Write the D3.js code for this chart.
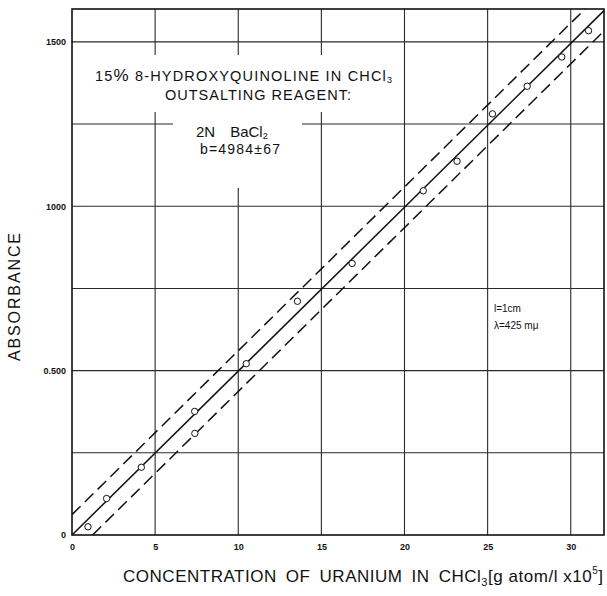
<!DOCTYPE html>
<html>
<head>
<meta charset="utf-8">
<script src="https://cdn.jsdelivr.net/npm/d3@7"></script>
<style>
  body { margin: 0; background: #fff; }
  svg { display: block; font-family: "Liberation Sans", Arial, sans-serif; }
</style>
</head>
<body>
<svg id="chart" width="607" height="596"></svg>
<script>
// values
const concentration = [0.96, 2.08, 4.17, 7.38, 7.39, 10.48, 13.56, 16.85, 21.13, 23.16, 25.29, 27.38, 29.46, 31.07];
const absorbance    = [25, 111, 206, 376, 309, 521, 711, 826, 1047, 1137, 1281, 1365, 1454, 1534];

// fitted line (b = 4984) and the two dashed limits, as end points
const fitLine   = [[0, 0], [32, 1595]];
const upperLine = [[0, 62], [30.86, 1600]];
const lowerLine = [[1.24, 0], [32, 1533]];

const xTicks = [0, 5, 10, 15, 20, 25, 30];
const yTicks = [0, 500, 1000, 1500];
const yTickLabels = ['0', '0.500', '1000', '1500'];
const xGrid = [5, 10, 15, 20, 25, 30];
const yGrid = [250, 500, 750, 1000, 1250, 1500];

const margin = {top: 9, left: 72};
const width = 532, height = 526;

const svg = d3.select('#chart');

const x = d3.scaleLinear().domain([0, 32]).range([margin.left, margin.left + width]);
const y = d3.scaleLinear().domain([0, 1600]).range([margin.top + height, margin.top]);

// grid
svg.append('g')
    .selectAll('line')
    .data(xGrid)
    .enter()
    .append('line')
    .attr('x1', d => x(d)).attr('x2', d => x(d))
    .attr('y1', y(0)).attr('y2', y(1600))
    .attr('stroke', '#2a2a2a')
    .attr('stroke-width', 1.1);

svg.append('g')
    .selectAll('line')
    .data(yGrid)
    .enter()
    .append('line')
    .attr('x1', x(0)).attr('x2', x(32))
    .attr('y1', d => y(d)).attr('y2', d => y(d))
    .attr('stroke', '#2a2a2a')
    .attr('stroke-width', 1.1);

// white patches behind the lettering (the grid is broken there)
svg.append('rect').attr('x', 93).attr('y', 55).attr('width', 304).attr('height', 57).attr('fill', '#fff');
svg.append('rect').attr('x', 173).attr('y', 112).attr('width', 129).attr('height', 76).attr('fill', '#fff');

// frame
svg.append('rect')
    .attr('x', x(0)).attr('y', y(1600))
    .attr('width', x(32) - x(0)).attr('height', y(0) - y(1600))
    .attr('fill', 'none')
    .attr('stroke', '#111')
    .attr('stroke-width', 1.6);

// axes (labels only)
const xAxis = svg.append('g')
    .attr('transform', 'translate(0,' + y(0) + ')')
    .call(d3.axisBottom(x).tickValues(xTicks).tickSize(0).tickPadding(9).tickFormat(d3.format('d')));
const yAxis = svg.append('g')
    .attr('transform', 'translate(' + x(0) + ',0)')
    .call(d3.axisLeft(y).tickValues(yTicks).tickSize(0).tickPadding(6).tickFormat((d, i) => yTickLabels[i]));
[xAxis, yAxis].forEach(a => {
    a.select('.domain').remove();
    a.selectAll('text')
        .attr('font-family', '"Liberation Sans", Arial, sans-serif')
        .attr('font-size', 9)
        .attr('font-weight', 'bold')
        .attr('fill', '#111');
});

// lines
const line = d3.line().x(d => x(d[0])).y(d => y(d[1]));

svg.append('path')
    .datum(fitLine)
    .attr('d', line)
    .attr('fill', 'none')
    .attr('stroke', '#111')
    .attr('stroke-width', 1.5);

[upperLine, lowerLine].forEach(l => {
    svg.append('path')
        .datum(l)
        .attr('d', line)
        .attr('fill', 'none')
        .attr('stroke', '#111')
        .attr('stroke-width', 1.5)
        .attr('stroke-dasharray', '12,6');
});

// data points
svg.append('g')
    .selectAll('circle')
    .data(concentration)
    .enter()
    .append('circle')
    .attr('cx', d => x(d))
    .attr('cy', (d, i) => y(absorbance[i]))
    .attr('r', 3.2)
    .attr('fill', '#fff')
    .attr('stroke', '#111')
    .attr('stroke-width', 1);

// lettering inside the plot
const t1 = svg.append('text')
    .attr('x', 95).attr('y', 81)
    .attr('font-size', 14.5)
    .attr('textLength', 297)
    .attr('lengthAdjust', 'spacing')
    .attr('fill', '#111');
t1.append('tspan').text('15');
t1.append('tspan').attr('font-size', 17).text('%');
t1.append('tspan').text(' 8-HYDROXYQUINOLINE IN CHCl');
t1.append('tspan').attr('font-size', 9).attr('dy', 2).text('3');

svg.append('text')
    .attr('x', 165).attr('y', 100)
    .attr('font-size', 14.5)
    .attr('textLength', 186)
    .attr('lengthAdjust', 'spacing')
    .attr('fill', '#111')
    .text('OUTSALTING REAGENT:');

const t3 = svg.append('text')
    .attr('x', 196).attr('y', 137)
    .attr('font-size', 15)
    .attr('fill', '#111');
t3.append('tspan').text('2N\u2003BaCl');
t3.append('tspan').attr('font-size', 9).attr('dy', 2).text('2');

svg.append('text')
    .attr('x', 200).attr('y', 154)
    .attr('font-size', 14)
    .attr('textLength', 80)
    .attr('lengthAdjust', 'spacing')
    .attr('fill', '#111')
    .text('b=4984\u00b167');

svg.append('text')
    .attr('x', 494).attr('y', 312)
    .attr('font-size', 10)
    .attr('fill', '#111')
    .text('l=1cm');
svg.append('text')
    .attr('x', 494).attr('y', 329)
    .attr('font-size', 10)
    .attr('fill', '#111')
    .text('\u03bb=425 m\u03bc');

// axis titles
svg.append('text')
    .attr('transform', 'translate(20,297) rotate(-90)')
    .attr('text-anchor', 'middle')
    .attr('font-size', 16)
    .attr('textLength', 128)
    .attr('lengthAdjust', 'spacing')
    .attr('fill', '#111')
    .text('ABSORBANCE');

const xt = svg.append('text')
    .attr('x', 123).attr('y', 582)
    .attr('font-size', 17)
    .attr('textLength', 480)
    .attr('lengthAdjust', 'spacing')
    .attr('fill', '#111');
xt.append('tspan').text('CONCENTRATION\u2002OF\u2002URANIUM\u2002IN\u2002CHCl');
xt.append('tspan').attr('font-size', 11).attr('dy', 4).text('3');
xt.append('tspan').attr('dy', -4).text('[g atom/l x10');
xt.append('tspan').attr('font-size', 10).attr('dy', -8).text('5');
xt.append('tspan').attr('dy', 8).text(']');
</script>
</body>
</html>
